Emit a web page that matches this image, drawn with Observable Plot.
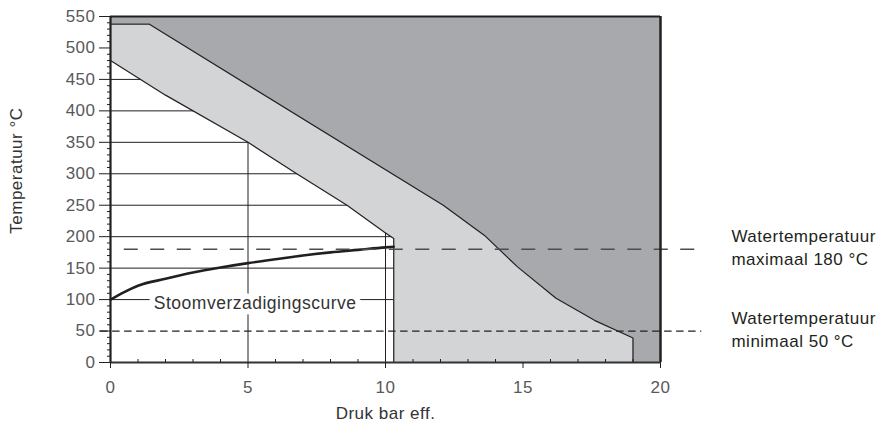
<!DOCTYPE html>
<html><head><meta charset="utf-8">
<script src="https://cdn.jsdelivr.net/npm/d3@7"></script>
<script src="https://cdn.jsdelivr.net/npm/@observablehq/plot@0.6"></script>
<style>
body{margin:0;background:#fff}
svg text{letter-spacing:0.5px}
</style>
</head><body><div id="chart"></div>
<script>
// Lower boundary of the working region (pressure bar eff., temperature °C)
const lowerP = [0, 2, 5, 6.7, 8.6, 10, 10.3, 10.3, 20];
const lowerT = [480, 425, 350, 302, 250, 206, 197, 0, 0];
// Upper boundary (light grey / dark grey)
const upperP = [0, 1.4, 12.1, 13.6, 14.8, 16.2, 17.6, 19, 19, 20];
const upperT = [538, 538, 250, 202, 152, 102, 67, 39, 0, 0];
// Steam saturation curve
const steamP = [0, 0.5, 1, 2, 3, 4, 5, 6, 7, 8, 9, 10, 10.3];
const steamT = [100, 112, 122, 133, 143, 151, 158, 164, 170, 175, 179, 183, 184];
// Grid
const gridT = [100, 150, 200, 250, 300, 350, 400, 450];
const gridP = [5, 10];
const xTicks = [0, 5, 10, 15, 20];
const xMinor = [1,2,3,4,6,7,8,9,11,12,13,14,16,17,18,19];
const yTicks = [0, 50, 100, 150, 200, 250, 300, 350, 400, 450, 500, 550];
const yMinor = d3.range(10, 550, 10).filter(v => v % 50 !== 0);
// Water temperature limits
const limitT = [180, 50];
const limitText = ["Watertemperatuur\nmaximaal 180 °C", "Watertemperatuur\nminimaal 50 °C"];
const curveLabel = "Stoomverzadigingscurve";
const xTitle = "Druk bar eff.";
const yTitle = "Temperatuur °C";

const lower = lowerP.map((p, i) => ({p, t: lowerT[i]}));
const upper = upperP.map((p, i) => ({p, t: upperT[i]}));
const steam = steamP.map((p, i) => ({p, t: steamT[i]}));
const limits = limitT.map((t, i) => ({t, text: limitText[i]}));

const ink = "#231f20";
const chart = Plot.plot({
  width: 887, height: 428,
  marginLeft: 110, marginRight: 227, marginTop: 16, marginBottom: 66,
  style: {fontFamily: "'Liberation Sans', Arial, sans-serif", fontSize: "17px", background: "#fff"},
  x: {domain: [0, 20], axis: null},
  y: {domain: [0, 550], axis: null},
  marks: [
    Plot.ruleY(gridT, {x1: 0, x2: 20, stroke: ink, strokeWidth: 1}),
    Plot.ruleX(gridP, {y1: 0, y2: 550, stroke: ink, strokeWidth: 1}),
    Plot.areaY(lower, {x: "p", y1: "t", y2: 550, fill: "#d3d4d6"}),
    Plot.areaY(upper, {x: "p", y1: "t", y2: 550, fill: "#a8a9ad"}),
    Plot.line(lower.slice(0, 8), {x: "p", y: "t", stroke: ink, strokeWidth: 1.2}),
    Plot.line(upper.slice(0, 9), {x: "p", y: "t", stroke: ink, strokeWidth: 1.2}),
    Plot.line(steam, {x: "p", y: "t", curve: "monotone-x", stroke: ink, strokeWidth: 2.6}),
    Plot.text([curveLabel], {x: 5.26, y: 94, text: d => d, fill: "#333", stroke: "white", strokeWidth: 11, strokeLinejoin: "round", fontSize: 17.5}),
    Plot.ruleY([limitT[0]], {x1: 0.5, x2: 21.4, stroke: "#4d4d4f", strokeWidth: 1.3, strokeDasharray: "14,12.5"}),
    Plot.ruleY([limitT[1]], {x1: -0.36, x2: 21.5, stroke: ink, strokeWidth: 1.2, strokeDasharray: "7.5,4.5"}),
    Plot.text(limits, {x: 22.58, y: "t", dy: -3, text: "text", textAnchor: "start", lineAnchor: "middle", lineHeight: 1.35, fill: ink, fontSize: 17}),
    // frame
    Plot.ruleY([550], {x1: 0, x2: 20, stroke: ink, strokeWidth: 2.2}),
    Plot.ruleX([20], {y1: 0, y2: 550, stroke: ink, strokeWidth: 2.5}),
    Plot.ruleX([0], {y1: 0, y2: 550, stroke: ink, strokeWidth: 2.2}),
    Plot.ruleY([0], {x1: 0, x2: 20, stroke: "#333", strokeWidth: 2.2}),
    // axes
    Plot.axisX(xTicks, {anchor: "bottom", tickSize: 6, tickPadding: 12, stroke: ink, fill: "#58595b", fontSize: 17, label: null}),
    Plot.axisX(xMinor, {anchor: "bottom", tickSize: 3, dy: -3, text: null, stroke: ink, label: null}),
    Plot.axisY(yTicks, {anchor: "left", tickSize: 11, tickPadding: 4, stroke: ink, fill: "#58595b", fontSize: 17, label: null}),
    Plot.axisY(yMinor, {anchor: "left", tickSize: 3, text: null, stroke: ink, label: null}),
    Plot.text([xTitle], {x: 10, frameAnchor: "bottom", dy: 51, lineAnchor: "middle", text: d => d, fill: "#333", fontSize: 17}),
    Plot.text([yTitle], {frameAnchor: "left", dx: -94, y: 305, rotate: -90, textAnchor: "middle", text: d => d, fill: "#333", fontSize: 17})
  ]
});
document.getElementById("chart").appendChild(chart);
</script>
</body></html>
